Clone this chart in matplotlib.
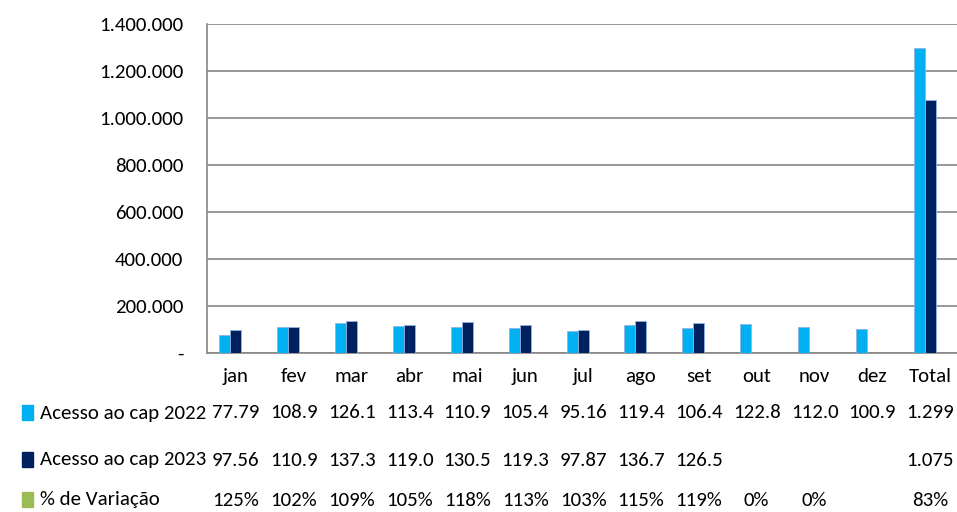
import numpy as np
import matplotlib.pyplot as plt
from matplotlib import font_manager
from matplotlib.patches import Rectangle
from matplotlib.ticker import FuncFormatter
from matplotlib.transforms import blended_transform_factory

# pick a Calibri-like font if one is installed
installed = set(f.name for f in font_manager.fontManager.ttflist)
prefs = ['Carlito', 'Calibri', 'Liberation Sans Narrow', 'Roboto Condensed',
         'Open Sans Condensed', 'PT Sans Narrow', 'Archivo Narrow',
         'DejaVu Sans Condensed']
main_font = next((f for f in prefs if f in installed), 'DejaVu Sans')
plt.rcParams['font.family'] = [main_font, 'DejaVu Sans']

# data
categories = ['jan', 'fev', 'mar', 'abr', 'mai', 'jun', 'jul', 'ago', 'set',
              'out', 'nov', 'dez', 'Total']
acesso_2022 = [77790, 108900, 126100, 113400, 110900, 105400, 95160, 119400,
               106400, 122800, 112000, 100900, 1299000]
acesso_2023 = [97560, 110900, 137300, 119000, 130500, 119300, 97870, 136700,
               126500, 0, 0, 0, 1075000]
variacao = [1.25, 1.02, 1.09, 1.05, 1.18, 1.13, 1.03, 1.15, 1.19, 0, 0, 0, 0.83]

labels_2022 = ['77.79', '108.9', '126.1', '113.4', '110.9', '105.4', '95.16',
               '119.4', '106.4', '122.8', '112.0', '100.9', '1.299']
labels_2023 = ['97.56', '110.9', '137.3', '119.0', '130.5', '119.3', '97.87',
               '136.7', '126.5', '', '', '', '1.075']
labels_var = ['125%', '102%', '109%', '105%', '118%', '113%', '103%', '115%',
              '119%', '0%', '0%', '', '83%']

series = [
    ('Acesso ao cap 2022', acesso_2022, labels_2022, '#00B0F0'),
    ('Acesso ao cap 2023', acesso_2023, labels_2023, '#002060'),
    ('% de Variação', variacao, labels_var, '#9BBB59'),
]

fig = plt.figure(figsize=(9.57, 5.12), dpi=100)
ax = fig.add_axes([0.2163, 0.3105, 0.786, 0.6425])

x = np.arange(len(categories))
w = 0.19
for i, (name, vals, _, color) in enumerate(series):
    ax.bar(x + (i - 1) * w, vals, width=w, color=color,
           edgecolor='#8FB4E3', linewidth=0.6, zorder=3)

ax.set_xlim(-0.5, len(categories) - 0.5)
ax.set_ylim(0, 1400000)
ax.set_yticks(np.arange(0, 1400001, 200000))
ax.yaxis.set_major_formatter(FuncFormatter(
    lambda v, p: '-' if v == 0 else f'{int(v):,}'.replace(',', '.')))
ax.tick_params(axis='y', length=0, pad=17, labelsize=15)
ax.set_xticks(x)
ax.set_xticklabels(categories)
ax.tick_params(axis='x', length=0, pad=11, labelsize=15)
ax.grid(axis='y', color='#868686', linewidth=1.2, zorder=0)
for s in ['top', 'right']:
    ax.spines[s].set_visible(False)
for s in ['left', 'bottom']:
    ax.spines[s].set_color('#868686')
    ax.spines[s].set_linewidth(1.2)

# data table below the chart
tr = blended_transform_factory(ax.transData, fig.transFigure)
row_y = [1 - 413 / 512, 1 - 460 / 512, 1 - 500 / 512]
for (name, vals, labels, color), yy in zip(series, row_y):
    fig.patches.append(Rectangle((22 / 957, yy - 7 / 512), 11 / 957, 15 / 512,
                                 transform=fig.transFigure, color=color))
    fig.text(40 / 957, yy, name, fontsize=15, ha='left', va='center')
    for xi, lab in zip(x, labels):
        ax.text(xi, yy, lab, transform=tr, fontsize=15,
                ha='center', va='center', clip_on=False)

fig.savefig('out.png', dpi=100)
